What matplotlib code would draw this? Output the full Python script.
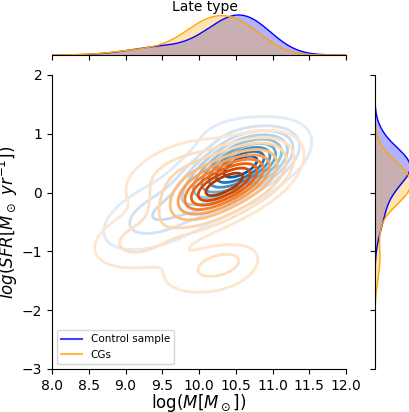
import numpy as np
import matplotlib
matplotlib.use('Agg')
import matplotlib.pyplot as plt
from matplotlib.colors import LinearSegmentedColormap
from matplotlib.lines import Line2D

# Gaussian components: x mean, y mean, sx, sy, rho, weight
ctrl_mx = [10.35, 10.75, 9.50, 10.55]
ctrl_my = [0.30, 0.55, -0.35, 1.00]
ctrl_sx = [0.35, 0.33, 0.45, 0.40]
ctrl_sy = [0.32, 0.28, 0.35, 0.22]
ctrl_rho = [0.45, 0.45, 0.50, 0.20]
ctrl_w = [0.40, 0.35, 0.18, 0.04]

cg_mx = [10.10, 10.60, 9.70, 9.20, 10.35, 10.10]
cg_my = [-0.02, 0.30, 0.35, -0.80, -1.15, -1.40]
cg_sx = [0.33, 0.33, 0.45, 0.40, 0.28, 0.45]
cg_sy = [0.30, 0.30, 0.35, 0.30, 0.18, 0.25]
cg_rho = [0.45, 0.45, 0.50, 0.30, 0.30, 0.20]
cg_w = [0.38, 0.38, 0.08, 0.07, 0.02, 0.04]

labels = ['Control sample', 'CGs']


def dens2d(X, Y, mx, my, sx, sy, rho, w):
    Z = np.zeros_like(X)
    w = np.asarray(w) / np.sum(w)
    for a, b, c, d, r, ww in zip(mx, my, sx, sy, rho, w):
        u = (X - a) / c
        v = (Y - b) / d
        q = (u**2 - 2*r*u*v + v**2) / (1 - r**2)
        Z += ww * np.exp(-q/2) / (2*np.pi*c*d*np.sqrt(1 - r**2))
    return Z


def dens1d(t, m, s, w):
    out = np.zeros_like(t)
    w = np.asarray(w) / np.sum(w)
    for a, c, ww in zip(m, s, w):
        out += ww * np.exp(-0.5*((t - a)/c)**2) / (c*np.sqrt(2*np.pi))
    return out


def iso_levels(Z, props):
    vals = np.sort(Z.ravel())[::-1]
    cum = np.cumsum(vals) / vals.sum()
    idx = np.searchsorted(cum, 1 - np.asarray(props))
    return np.take(vals, idx, mode='clip')


def trunc(name, lo, hi):
    base = plt.get_cmap(name)
    return LinearSegmentedColormap.from_list(name + '_t', base(np.linspace(lo, hi, 256)))


W, H = 410, 412
fig = plt.figure(figsize=(W/100, H/100), dpi=100)
ax = fig.add_axes([52/W, 1 - 369/H, 294/W, 294/H])
axx = fig.add_axes([52/W, 1 - 55/H, 294/W, 42/H], sharex=ax)
axy = fig.add_axes([375/W, 1 - 369/H, 36/W, 294/H], sharey=ax)

gx = np.linspace(7.5, 12.5, 300)
gy = np.linspace(-3.5, 2.5, 300)
X, Y = np.meshgrid(gx, gy)
props = np.linspace(0.05, 1, 10)

groups = [
    (ctrl_mx, ctrl_my, ctrl_sx, ctrl_sy, ctrl_rho, ctrl_w, 'Blues', 'blue'),
    (cg_mx, cg_my, cg_sx, cg_sy, cg_rho, cg_w, 'Oranges', 'orange'),
]

xmax = 0
ymax = 0
for mx, my, sx, sy, rho, w, cmap, col in groups:
    Z = dens2d(X, Y, mx, my, sx, sy, rho, w)
    lev = iso_levels(Z, props)
    ax.contour(X, Y, Z, levels=lev, cmap=trunc(cmap, 0.12, 0.95), linewidths=2)
    fx = dens1d(gx, mx, sx, w)
    fy = dens1d(gy, my, sy, w)
    axx.fill_between(gx, 0, fx, color=col, alpha=0.3, lw=0)
    axx.plot(gx, fx, color=col, lw=1)
    axy.fill_betweenx(gy, 0, fy, color=col, alpha=0.3, lw=0)
    axy.plot(fy, gy, color=col, lw=1)
    xmax = max(xmax, fx.max())
    ymax = max(ymax, fy.max())

ax.set_xlim(8, 12)
ax.set_ylim(-3, 2)
ax.set_xticks(np.arange(8, 12.01, 0.5))
ax.set_yticks(np.arange(-3, 2.01, 1))
ax.tick_params(labelsize=10)
ax.spines['top'].set_visible(False)
ax.spines['right'].set_visible(False)
ax.set_xlabel(r'log($M[M_\odot]$)', fontsize=12, va='bottom')
ax.xaxis.set_label_coords(0.5, -(414.5 - 369) / 294)
ax.set_ylabel(r'$log(SFR[M_\odot\ yr^{-1}])$', fontsize=12, labelpad=1)

axx.set_ylim(0, xmax*1.05)
axy.set_xlim(0, ymax*1.0)
for a in (axx, axy):
    for s in a.spines.values():
        s.set_visible(False)
axx.spines['bottom'].set_visible(True)
axy.spines['left'].set_visible(True)
axx.tick_params(labelbottom=False, left=False, labelleft=False)
axy.tick_params(labelleft=False, bottom=False, labelbottom=False)

handles = [Line2D([], [], color='blue', alpha=0.75), Line2D([], [], color='orange', alpha=0.75)]
ax.legend(handles, labels, loc='lower left', fontsize=7.5)

fig.text(0.5, 1 - 7/H, 'Late type', ha='center', va='center', fontsize=10)

fig.savefig('out.png', dpi=100)
